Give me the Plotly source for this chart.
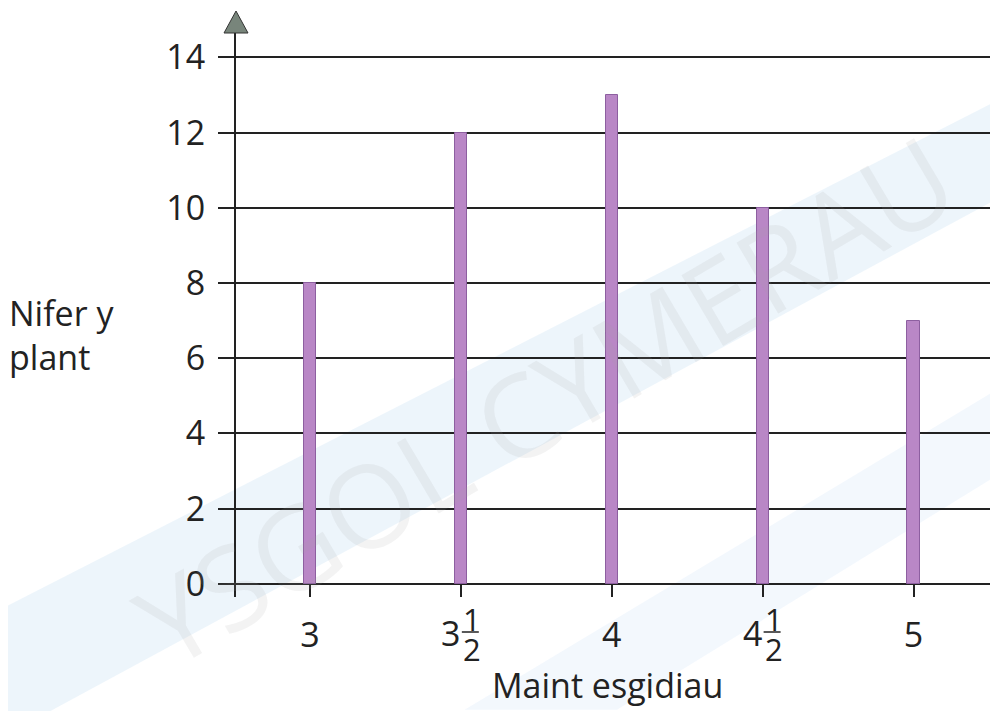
import plotly.graph_objects as go

# ---- data ----
shoe_sizes = ["3", "3½", "4", "4½", "5"]
whole_parts = ["3", "3", "4", "4", "5"]
fraction_num = ["", "1", "", "1", ""]
fraction_den = ["", "2", "", "2", ""]
num_children = [8, 12, 13, 10, 7]
y_ticks = [0, 2, 4, 6, 8, 10, 12, 14]

x_title = "Maint esgidiau"
y_title = "Nifer y<br>plant"
watermark = "YSGOL CYMERAU"

FONT = "Open Sans"
INK = "#222"
BAR = "#b987c6"
BAR_EDGE = "#8d5fa0"

X_RANGE = [-0.49, 4.56]

xs = list(range(len(shoe_sizes)))
# mixed numbers get their whole part drawn next to a stacked fraction below
ticktext = [("" if f else w) for w, f in zip(whole_parts, fraction_num)]

fig = go.Figure()
fig.add_trace(go.Bar(
    x=xs, y=num_children, width=0.08,
    marker=dict(color=BAR, line=dict(color=BAR_EDGE, width=1)),
    hovertext=shoe_sizes,
))

annotations = []
shapes = []
# faint background streaks
shapes.append(dict(type="path", xref="paper", yref="paper", layer="below",
                   path="M -0.35,-0.05 L 1.1,0.95 L 1.1,0.78 L -0.35,-0.28 Z",
                   fillcolor="rgba(215,232,247,0.45)", line=dict(width=0)))
shapes.append(dict(type="path", xref="paper", yref="paper", layer="below",
                   path="M 0.3,-0.2 L 1.1,0.45 L 1.1,0.3 L 0.5,-0.2 Z",
                   fillcolor="rgba(220,236,248,0.35)", line=dict(width=0)))
# arrow head on y axis
shapes.append(dict(type="path", xref="paper", yref="paper",
                   xsizemode="pixel", ysizemode="pixel", xanchor=0, yanchor=1,
                   path="M -12,0 L 12,0 L 0,22 Z",
                   fillcolor="#78857b", line=dict(color="#333", width=1)))

for i, (w, n, d) in enumerate(zip(whole_parts, fraction_num, fraction_den)):
    if not n:
        continue
    annotations.append(dict(x=i, y=0, xref="x", yref="paper", text=w, showarrow=False,
                            xanchor="right", yanchor="middle", borderpad=0,
                            xshift=0, yshift=-36, font=dict(family=FONT, size=34, color=INK)))
    annotations.append(dict(x=i, y=0, xref="x", yref="paper", text=n, showarrow=False,
                            xanchor="left", yanchor="middle", borderpad=0,
                            xshift=1, yshift=-22, font=dict(family=FONT, size=31, color=INK)))
    annotations.append(dict(x=i, y=0, xref="x", yref="paper", text=d, showarrow=False,
                            xanchor="left", yanchor="middle", borderpad=0,
                            xshift=1, yshift=-52, font=dict(family=FONT, size=31, color=INK)))
    px = (i - X_RANGE[0]) / (X_RANGE[1] - X_RANGE[0])
    shapes.append(dict(type="line", xref="paper", yref="paper",
                       xsizemode="pixel", ysizemode="pixel", xanchor=px, yanchor=0,
                       x0=1, x1=18, y0=-35, y1=-35, line=dict(color=INK, width=1.5)))

annotations.append(dict(x=0, y=0.465, xref="paper", yref="paper", text=y_title, showarrow=False,
                        xanchor="left", yanchor="middle", align="left", xshift=-229,
                        font=dict(family=FONT, size=34, color=INK)))
annotations.append(dict(x=2, y=0, xref="x", yref="paper", text=x_title, showarrow=False,
                        xanchor="center", yanchor="top", yshift=-63, xshift=-4,
                        font=dict(family=FONT, size=34, color=INK)))
annotations.append(dict(x=0.405, y=0.35, xref="paper", yref="paper", text=watermark, showarrow=False,
                        textangle=-30.5, font=dict(family=FONT, size=115, color="rgba(160,160,160,0.13)")))

fig.update_layout(
    width=990, height=703,
    margin=dict(l=228, r=0, t=25, b=114),
    paper_bgcolor="white", plot_bgcolor="rgba(0,0,0,0)",
    showlegend=False, bargap=0,
    annotations=annotations, shapes=shapes,
    xaxis=dict(range=X_RANGE, tickvals=xs, ticktext=ticktext,
               ticks="inside", ticklen=13, tickwidth=2, tickcolor=INK,
               showgrid=False, showline=False, zeroline=False,
               ticklabelstandoff=15,
               tickfont=dict(family=FONT, size=34, color=INK)),
    yaxis=dict(range=[-0.35, 14.65], tickvals=y_ticks,
               ticks="outside", ticklen=16, tickwidth=2, tickcolor=INK,
               showgrid=True, gridcolor=INK, gridwidth=2,
               zeroline=True, zerolinecolor=INK, zerolinewidth=2,
               showline=True, linecolor=INK, linewidth=2,
               ticklabelstandoff=6,
               tickfont=dict(family=FONT, size=34, color=INK)),
)

fig.write_html("out.html")
